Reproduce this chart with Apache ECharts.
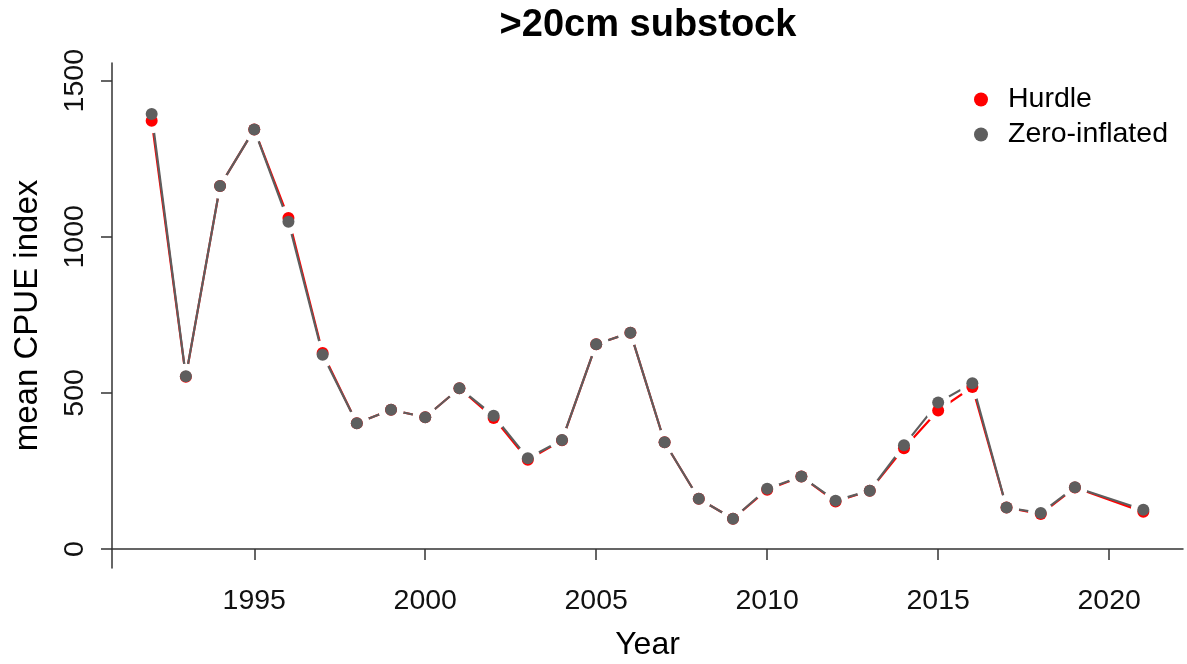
<!DOCTYPE html>
<html>
<head>
<meta charset="utf-8">
<script src="https://cdn.jsdelivr.net/npm/echarts@6/dist/echarts.min.js"></script>
<style>
html,body{margin:0;padding:0;background:#fff;}
#chart{width:1187px;height:664px;}
</style>
</head>
<body>
<div id="chart"></div>
<script>
var years = [1992,1993,1994,1995,1996,1997,1998,1999,2000,2001,2002,2003,2004,2005,2006,2007,2008,2009,2010,2011,2012,2013,2014,2015,2016,2017,2018,2019,2021];
var hurdle = [1372,552,1163,1344,1060,628,403,446,422,515,420,286,348,656,693,342,161,97,190,232,152,187,323,444,519,133,112,197,119];
var zeroInflated = [1393,553,1163,1344,1048,622,403,446,422,515,427,291,349,656,693,342,161,97,193,232,155,187,332,469,531,133,115,198,126];
var xTicks = [1995,2000,2005,2010,2015,2020];
var yTicks = [0,500,1000,1500];
var seriesNames = ['Hurdle','Zero-inflated'];

function pairs(vals){ return years.map(function(y,i){ return [y, vals[i]]; }); }

var RED = '#ff0000', GREY = '#5e5e5e';
var FONT = '"Liberation Sans", Arial, Helvetica, sans-serif';

var chart = echarts.init(document.getElementById('chart'));
chart.setOption({
  backgroundColor: '#ffffff',
  animation: false,
  title: {
    text: '>20cm substock',
    left: 643, top: 2, textAlign: 'center',
    textStyle: {fontFamily: FONT, fontWeight: 'bold', fontSize: 38, color: '#000'}
  },
  legend: {
    orient: 'vertical',
    left: 969, top: 80,
    itemWidth: 44, itemHeight: 14,
    itemGap: 6,
    icon: 'circle',
    data: [
      {name: seriesNames[0], itemStyle: {color: RED}},
      {name: seriesNames[1], itemStyle: {color: GREY}}
    ],
    textStyle: {fontFamily: FONT, fontSize: 28.5, color: '#000'}
  },
  grid: {left: 112, right: 4, top: 63, bottom: 96, containLabel: false, outerBoundsMode: 'none'},
  xAxis: {
    type: 'value', min: 1990.84, max: 2022.16,
    name: 'Year', nameLocation: 'middle', nameGap: 61,
    nameTextStyle: {fontFamily: FONT, fontSize: 32, color: '#000'},
    axisLine: {show: true, lineStyle: {color: '#333', width: 1.5}},
    axisTick: {show: true, length: 11, customValues: xTicks, lineStyle: {color: '#333', width: 1.5}},
    axisLabel: {customValues: xTicks, margin: 19, fontFamily: FONT, fontSize: 28.5, color: '#111',
      formatter: function(v){ return String(v); }},
    splitLine: {show: false}
  },
  yAxis: {
    type: 'value', min: -60.8, max: 1556.7,
    name: 'mean CPUE index', nameLocation: 'middle', nameGap: 68, nameRotate: 90,
    nameTextStyle: {fontFamily: FONT, fontSize: 33, color: '#000'},
    axisLine: {show: true, lineStyle: {color: '#333', width: 1.5}},
    axisTick: {show: true, length: 11, customValues: yTicks, lineStyle: {color: '#333', width: 1.5}},
    axisLabel: {customValues: yTicks, rotate: 90, margin: 22, fontFamily: FONT, fontSize: 28.5, color: '#111',
      formatter: function(v){ return String(v); }},
    splitLine: {show: false}
  },
  series: [
    {name: 'Hurdle line', type: 'line', data: pairs(hurdle), symbol: 'none',
     lineStyle: {color: RED, width: 2.2}, z: 2, silent: true},
    {name: 'Zero-inflated line', type: 'line', data: pairs(zeroInflated), symbol: 'none',
     lineStyle: {color: GREY, width: 2.2}, z: 2, silent: true},
    {name: 'gapA', type: 'scatter', data: pairs(hurdle), symbol: 'circle', symbolSize: 25,
     itemStyle: {color: '#ffffff', opacity: 1}, z: 3, silent: true},
    {name: 'gapB', type: 'scatter', data: pairs(zeroInflated), symbol: 'circle', symbolSize: 25,
     itemStyle: {color: '#ffffff', opacity: 1}, z: 3, silent: true},
    {name: seriesNames[0], type: 'scatter', data: pairs(hurdle), symbolSize: 12, itemStyle: {color: RED, opacity: 1}, z: 4},
    {name: seriesNames[1], type: 'scatter', data: pairs(zeroInflated), symbolSize: 12, itemStyle: {color: GREY, opacity: 1}, z: 5}
  ]
});
</script>
</body>
</html>
